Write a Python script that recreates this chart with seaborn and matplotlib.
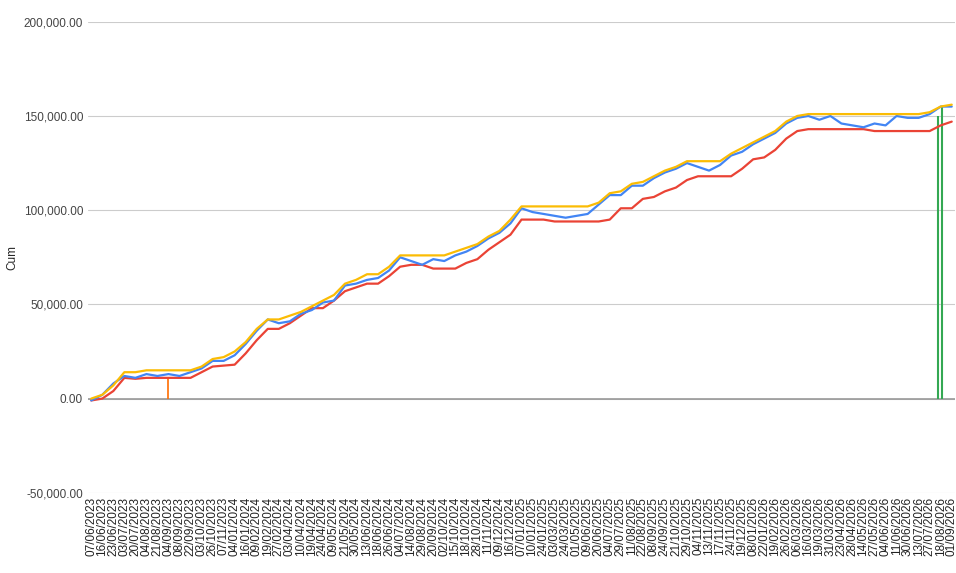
import numpy as np
import pandas as pd
import matplotlib
matplotlib.use('Agg')
import matplotlib.pyplot as plt
import seaborn as sns
from matplotlib.ticker import FuncFormatter

dates = ['07/06/2023', '16/06/2023', '23/06/2023', '03/07/2023', '20/07/2023', '04/08/2023', '21/08/2023',
         '04/09/2023', '08/09/2023', '22/09/2023', '03/10/2023', '26/10/2023', '07/11/2023', '04/01/2024',
         '16/01/2024', '09/02/2024', '19/02/2024', '27/02/2024', '03/04/2024', '10/04/2024', '19/04/2024',
         '24/04/2024', '09/05/2024', '21/05/2024', '30/05/2024', '13/06/2024', '18/06/2024', '26/06/2024',
         '04/07/2024', '14/08/2024', '29/08/2024', '20/09/2024', '02/10/2024', '15/10/2024', '18/10/2024',
         '28/10/2024', '11/11/2024', '09/12/2024', '16/12/2024', '07/01/2025', '10/01/2025', '24/01/2025',
         '03/03/2025', '24/03/2025', '01/05/2025', '09/06/2025', '20/06/2025', '04/07/2025', '29/07/2025',
         '11/08/2025', '22/08/2025', '08/09/2025', '24/09/2025', '21/10/2025', '29/10/2025', '04/11/2025',
         '13/11/2025', '17/11/2025', '24/11/2025', '19/12/2025', '08/01/2026', '22/01/2026', '19/02/2026',
         '26/02/2026', '06/03/2026', '16/03/2026', '19/03/2026', '31/03/2026', '23/04/2026', '28/04/2026',
         '14/05/2026', '27/05/2026', '04/06/2026', '11/06/2026', '30/06/2026', '13/07/2026', '27/07/2026',
         '18/08/2026', '01/09/2026']

# values in thousands
cum = [-1, 2, 8, 12, 11, 13, 12, 13, 12, 14, 16, 20, 20, 23, 29, 36, 42, 40, 41, 45, 47, 51, 52, 60, 61, 63,
       64, 68, 75, 73, 71, 74, 73, 76, 78, 81, 85, 88, 93, 101, 99, 98, 97, 96, 97, 98, 103, 108, 108, 113,
       113, 117, 120, 122, 125, 123, 121, 124, 129, 131, 135, 138, 141, 146, 149, 150, 148, 150, 146, 145,
       144, 146, 145, 150, 149, 149, 151, 155, 155]
peak = [0, 2, 7, 14, 14, 15, 15, 15, 15, 15, 17, 21, 22, 25, 30, 37, 42, 42, 44, 46, 49, 52, 55, 61, 63, 66,
        66, 70, 76, 76, 76, 76, 76, 78, 80, 82, 86, 89, 95, 102, 102, 102, 102, 102, 102, 102, 104, 109, 110,
        114, 115, 118, 121, 123, 126, 126, 126, 126, 130, 133, 136, 139, 142, 147, 150, 151, 151, 151, 151,
        151, 151, 151, 151, 151, 151, 151, 152, 155, 156]
floor = [-1, 0, 4, 11, 10.5, 11, 11, 11, 11, 11, 14, 17, 17.5, 18, 24, 31, 37, 37, 40, 44, 48, 48, 52, 57,
         59, 61, 61, 65, 70, 71, 71, 69, 69, 69, 72, 74, 79, 83, 87, 95, 95, 95, 94, 94, 94, 94, 94, 95, 101,
         101, 106, 107, 110, 112, 116, 118, 118, 118, 118, 122, 127, 128, 132, 138, 142, 143, 143, 143, 143,
         143, 143, 142, 142, 142, 142, 142, 142, 145, 147]
# single-day spikes (index into dates, value in thousands)
spike_orange_idx, spike_orange_val = [7], [11]
spike_green_idx, spike_green_val = [76.8, 77.1], [150, 155]

x = np.arange(len(dates))
sns.set_style('white')
plt.rcParams['font.family'] = ['Liberation Sans', 'DejaVu Sans']
fig, ax = plt.subplots(figsize=(9.56, 5.73), dpi=100)
fig.subplots_adjust(left=0.092, right=0.999, top=0.962, bottom=0.14)

ax.axhline(0, color='#999999', lw=1.2, zorder=1)
ax.vlines(spike_orange_idx, 0, np.array(spike_orange_val) * 1000, color='#FF6D01', lw=1.2, zorder=2)
ax.vlines(spike_green_idx, 0, np.array(spike_green_val) * 1000, color='#34A853', lw=1.5, zorder=2)
sns.lineplot(x=x, y=np.array(floor) * 1000, color='#EA4335', lw=1.6, ax=ax, zorder=3)
sns.lineplot(x=x, y=np.array(cum) * 1000, color='#4285F4', lw=1.6, ax=ax, zorder=4)
sns.lineplot(x=x, y=np.array(peak) * 1000, color='#FBBC04', lw=1.6, ax=ax, zorder=5)

ax.set_ylim(-50000, 200000)
ax.set_yticks(np.arange(-50000, 200001, 50000))
ax.yaxis.set_major_formatter(FuncFormatter(lambda v, p: f'{v:,.2f}'))
ax.set_xlim(-0.3, len(dates) - 0.7)
ax.set_xticks(x)
ax.set_xticklabels(dates, rotation=90, fontsize=8.5, color='#222222')
ax.tick_params(axis='y', labelsize=8.5, colors='#444444', length=0)
ax.tick_params(axis='x', length=0, pad=3)
ax.grid(axis='y', color='#cccccc', lw=0.8)
ax.set_axisbelow(True)
for sp in ax.spines.values():
    sp.set_visible(False)
ax.set_ylabel('Cum', fontsize=8.5)
ax.set_xlabel('')
plt.savefig('out.png', dpi=100)
